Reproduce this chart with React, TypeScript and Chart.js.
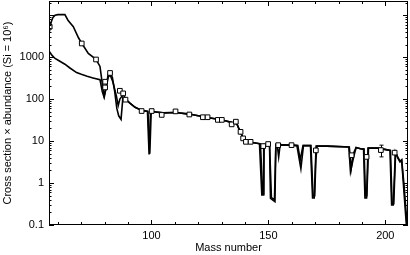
import { useEffect, useRef } from "react";
import { Chart, registerables } from "chart.js";

Chart.register(...registerables);

// Curve A (upper curve at low masses)
const massA = [
  56.2, 57.1, 57.9, 58.8, 60.0, 63.0, 64.3, 66.6, 68.8, 70.2, 73.0, 76.3, 78.0,
  79.0, 79.8, 80.6, 81.5, 82.3, 83.3, 84.3, 85.2, 86.0, 87.0, 87.8, 88.9, 90.8,
  93.0, 95.8, 98.3, 99.0, 99.6, 101, 105, 110.3, 116.2, 120, 124, 128.4, 132,
  134.5, 136.5, 137.2, 138.1, 139.2, 140.4, 142.4, 146.2, 147.2, 147.8, 148.0,
  150.5, 150.9, 152.8, 153.2, 160, 162.2, 163.9, 165.0, 168.0, 168.9, 169.6,
  170.4, 175, 184.4, 185.1, 186.5, 187.5, 189.8, 190.7, 191.3, 192.0, 192.6,
  197, 202.0, 202.7, 203.4, 204.3, 205.3, 206.3, 207.0, 207.6, 209.0, 209.7,
];
const sigmaNA = [
  3600, 6800, 8900, 10000, 10300, 10300, 7600, 5300, 2900, 2150, 1230, 890, 600,
  230, 120, 190, 390, 440, 330, 150, 60, 40, 33, 110, 100, 80,
  64, 54, 51, 4.8, 50, 50, 47, 48, 44, 40, 36.5, 33, 30,
  27.5, 26, 21, 16.6, 11.6, 9.6, 9.4, 8.7, 0.52, 0.52, 8.3,
  8.3, 0.43, 0.36, 8.2, 8.0, 7.8, 2.2, 7.8, 7.8, 0.44, 0.44,
  7.6, 7.6, 7.2, 1.86, 4.3, 7.0, 6.5, 6.5, 0.44, 0.44, 6.8,
  6.8, 6.0, 0.3, 0.3, 5.5, 4.0, 3.2, 3.5, 1.2, 0.1, 0.07,
];

// Curve B (lower curve at low masses)
const massB = [
  56.2, 57.5, 58.8, 60.3, 63.0, 65.0, 68.0, 70.0, 72.5, 75.0, 78.0, 79.0, 79.8,
  80.5, 81.5, 82.3, 83.5, 85.0, 85.8, 86.5, 88.0, 88.9, 90.8, 93.0, 95.8, 98.5,
  99.3, 99.9, 101, 105, 110.3, 116.2, 120, 124, 128.4, 132, 134.5, 136.5, 137.2,
  138.1, 139.2, 140.4, 142.4, 146.6, 147.6, 148.0, 148.2, 150.5, 151.3, 152.6,
  153.2, 153.8, 154.4, 155.0, 160, 162.6, 163.6, 164.8, 168.2, 169.1, 169.8,
  170.3, 170.8, 175, 184.6, 185.4, 186.3, 187.5, 189.8, 190.9, 191.5, 192.1,
  192.8, 197, 202.2, 202.9, 203.6, 204.4, 205.3, 206.3, 207.0, 208.0, 209.3,
  209.7,
];
const sigmaNB = [
  1400, 1100, 930, 830, 680, 560, 430, 390, 350, 320, 290, 150, 110,
  170, 330, 380, 260, 120, 70, 100, 130, 100, 80, 64, 54, 51,
  5.0, 50, 50, 47, 48, 44, 40, 36.5, 33, 30, 27.5, 26, 21,
  16.6, 11.6, 9.6, 9.4, 8.6, 0.55, 0.55, 8.3, 8.3, 0.45, 0.4,
  8.2, 8.0, 4.2, 8.0, 8.0, 7.8, 3.5, 7.8, 7.8, 0.5, 0.5,
  3.5, 7.6, 7.6, 7.2, 2.2, 5.0, 7.0, 6.5, 6.5, 0.5, 0.5,
  6.8, 6.8, 6.0, 0.32, 0.32, 5.3, 4.2, 3.3, 3.6, 0.9, 0.1,
  0.07,
];

// Empirical s-only values (squares)
const sqMass = [
  56.5, 70.2, 76.3, 80.2, 80.2, 82.3, 86.5, 87.9, 88.9, 95.8, 100.1, 104.4,
  110.3, 116.2, 122.0, 124.0, 128.4, 130.1, 134.3, 136.1, 138.1, 139.2, 140.4,
  142.4, 147.8, 149.9, 154.2, 159.9, 170.3, 185.6, 192.0, 198.1, 204.0,
];
const sqSigmaN = [
  5300, 2120, 880, 260, 190, 420, 158, 137, 97, 52, 52, 42,
  51, 43, 37, 37, 32, 32, 25, 29, 16.6, 11.6, 9.6,
  9.6, 7.6, 8.5, 8.0, 8.0, 6.0, 4.6, 4.2, 6.1, 5.3,
];

// Error bar
const errMass = [198.1];
const errLow = [4.2];
const errHigh = [8.0];

const xTickLabels = [100, 150, 200];
const yTickLabels = [0.1, 1, 10, 100, 1000];
const X_MIN = 56.2;
const X_MAX = 209.7;
const Y_MIN = 0.1;
const Y_MAX = 21800;

const FONT = "'Liberation Sans', Arial, Helvetica, sans-serif";

export default function App() {
  const ref = useRef<HTMLCanvasElement>(null);

  useEffect(() => {
    document.body.style.margin = "0";
    const pts = (m: number[], v: number[]) => m.map((x, i) => ({ x, y: v[i] }));

    const axisPlugin = {
      id: "axisDecor",
      beforeDatasetsDraw(chart: any) {
        const { ctx, scales } = chart;
        const x = scales.x;
        const y = scales.y;
        ctx.save();
        ctx.strokeStyle = "#000";
        ctx.lineWidth = 1;
        for (let i = 0; i < errMass.length; i++) {
          const px = Math.round(x.getPixelForValue(errMass[i])) + 0.5;
          const p1 = y.getPixelForValue(errLow[i]);
          const p2 = y.getPixelForValue(errHigh[i]);
          ctx.beginPath();
          ctx.moveTo(px, p1);
          ctx.lineTo(px, p2);
          ctx.moveTo(px - 2, p1);
          ctx.lineTo(px + 2, p1);
          ctx.moveTo(px - 2, p2);
          ctx.lineTo(px + 2, p2);
          ctx.stroke();
        }
        ctx.restore();
      },
      afterDraw(chart: any) {
        const { ctx, chartArea, scales } = chart;
        const { left, right, top, bottom } = chartArea;
        const x = scales.x;
        const y = scales.y;
        ctx.save();
        ctx.strokeStyle = "#000";
        ctx.lineWidth = 1;
        ctx.strokeRect(left + 0.5, top + 0.5, right - left - 1, bottom - top - 1);
        ctx.beginPath();
        for (let m = 60; m <= 200; m += 10) {
          const px = Math.round(x.getPixelForValue(m)) + 0.5;
          const len = m % 50 === 0 ? 5 : 3;
          ctx.moveTo(px, bottom);
          ctx.lineTo(px, bottom - len);
          ctx.moveTo(px, top);
          ctx.lineTo(px, top + len);
        }
        for (let d = 0.1; d < Y_MAX; d *= 10) {
          for (let k = 1; k <= 9; k++) {
            const v = d * k;
            if (v > Y_MAX) break;
            const py = Math.round(y.getPixelForValue(v)) + 0.5;
            const len = k === 1 ? 5 : 2.5;
            ctx.moveTo(left, py);
            ctx.lineTo(left + len, py);
            ctx.moveTo(right, py);
            ctx.lineTo(right - len, py);
          }
        }
        ctx.stroke();
        ctx.restore();
      },
    };

    Chart.defaults.color = "#000";
    Chart.defaults.font.family = FONT;
    Chart.defaults.font.size = 11;

    const chart = new Chart(ref.current as HTMLCanvasElement, {
      type: "line",
      data: {
        datasets: [
          {
            type: "scatter",
            data: pts(sqMass, sqSigmaN),
            pointStyle: "rect",
            pointRadius: 3.3,
            backgroundColor: "#fff",
            borderColor: "#000",
            borderWidth: 1,
            showLine: false,
            order: 0,
          } as any,
          {
            data: pts(massA, sigmaNA),
            borderColor: "#000",
            borderWidth: 1.6,
            pointRadius: 0,
            fill: false,
            tension: 0,
            order: 1,
          },
          {
            data: pts(massB, sigmaNB),
            borderColor: "#000",
            borderWidth: 1.6,
            pointRadius: 0,
            fill: false,
            tension: 0,
            order: 2,
          },
        ],
      },
      options: {
        animation: false,
        responsive: true,
        maintainAspectRatio: false,
        layout: { autoPadding: false, padding: { top: 1, right: 2, left: 0, bottom: 0 } },
        plugins: { legend: { display: false }, tooltip: { enabled: false } },
        scales: {
          x: {
            type: "linear",
            min: X_MIN,
            max: X_MAX,
            grid: { display: false, drawTicks: false },
            border: { display: false },
            ticks: {
              padding: 4,
              autoSkip: false,
              maxRotation: 0,
              color: "#000",
              font: { size: 11, family: FONT },
            },
            afterBuildTicks: (s: any) => {
              s.ticks = xTickLabels.map((value) => ({ value }));
            },
            afterFit: (s: any) => {
              s.height = 30;
              s.paddingLeft = 0;
              s.paddingRight = 0;
            },
            title: {
              display: true,
              text: "Mass number",
              color: "#000",
              font: { size: 11, family: FONT },
              padding: { top: 0, bottom: 0 },
            },
          },
          y: {
            type: "logarithmic",
            min: Y_MIN,
            max: Y_MAX,
            grid: { display: false, drawTicks: false },
            border: { display: false },
            ticks: {
              padding: 5,
              autoSkip: false,
              color: "#000",
              font: { size: 11, family: FONT },
              callback: (v: any) => String(v),
            },
            afterBuildTicks: (s: any) => {
              s.ticks = yTickLabels.map((value) => ({ value }));
            },
            afterFit: (s: any) => {
              s.width = 49;
              s.paddingTop = 0;
              s.paddingBottom = 0;
            },
            title: {
              display: true,
              text: "Cross section \u00d7 abundance (Si = 10\u2076)",
              color: "#000",
              font: { size: 11, family: FONT },
              padding: { top: 1, bottom: 0 },
            },
          },
        },
      },
      plugins: [axisPlugin],
    } as any);

    return () => chart.destroy();
  }, []);

  return (
    <div style={{ position: "relative", width: 410, height: 255 }}>
      <canvas ref={ref} />
    </div>
  );
}
